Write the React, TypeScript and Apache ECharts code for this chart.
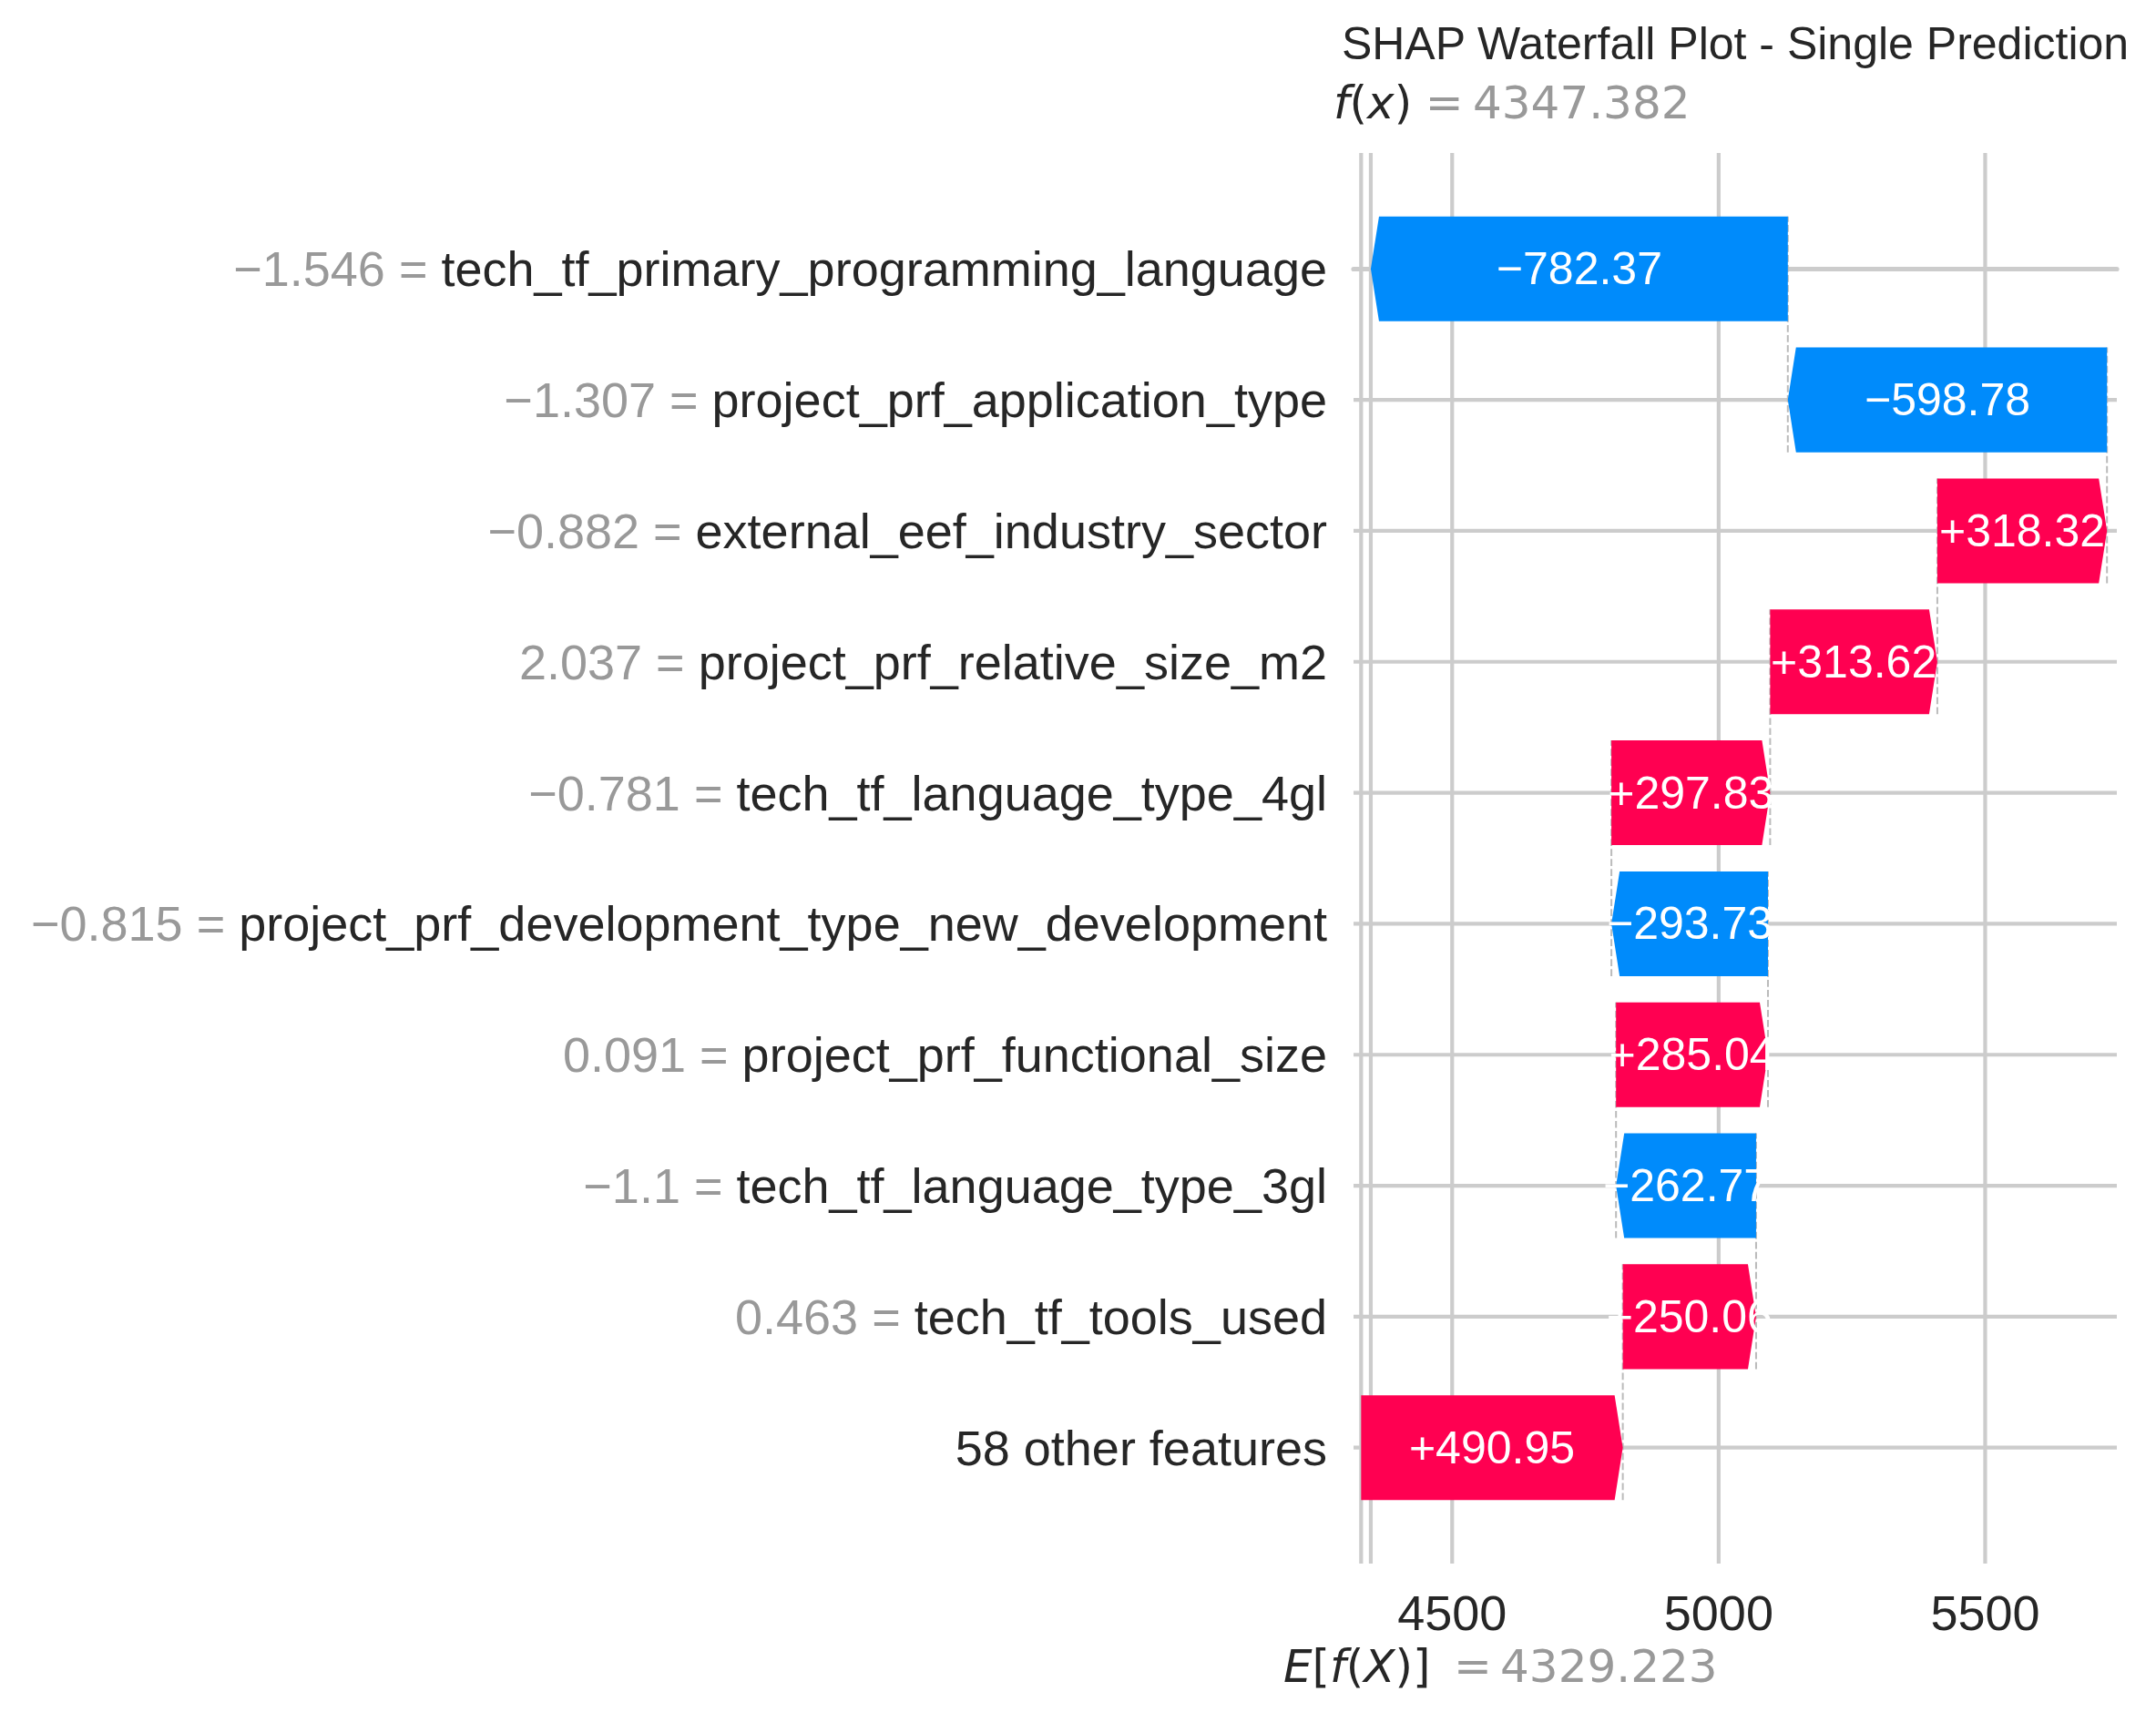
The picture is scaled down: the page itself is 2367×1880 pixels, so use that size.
import React, { useEffect, useRef } from "react";
import * as echarts from "echarts";

// ---------- data ----------
const featureNames = [
  "tech_tf_primary_programming_language",
  "project_prf_application_type",
  "external_eef_industry_sector",
  "project_prf_relative_size_m2",
  "tech_tf_language_type_4gl",
  "project_prf_development_type_new_development",
  "project_prf_functional_size",
  "tech_tf_language_type_3gl",
  "tech_tf_tools_used",
  "58 other features",
];
const featureValues = [
  "\u22121.546",
  "\u22121.307",
  "\u22120.882",
  "2.037",
  "\u22120.781",
  "\u22120.815",
  "0.091",
  "\u22121.1",
  "0.463",
  "",
];
const shapValues = [-782.37, -598.78, 318.32, 313.62, 297.83, -293.73, 285.04, -262.77, 250.06, 490.95];
const BASE_VALUE = 4329.223;
const FX_VALUE = 4347.382;
const xTicks = [4500, 5000, 5500];
const TITLE = "SHAP Waterfall Plot - Single Prediction";

// ---------- layout / style ----------
const W = 2367;
const H = 1880;
const X_MIN = 4315;
const X_MAX = 5747;
const Y_MIN = -0.885;
const Y_MAX = 9.885;
const GRID_LEFT = 1486;
const GRID_RIGHT = 43;
const GRID_TOP = 168;
const GRID_BOTTOM = 163;
const PLOT_H = H - GRID_TOP - GRID_BOTTOM;
const PLOT_W = W - GRID_LEFT - GRID_RIGHT;
const ROW_TOP_PX = GRID_TOP + ((0 - Y_MIN) / (Y_MAX - Y_MIN)) * PLOT_H;
const ROW_BOTTOM_PX = GRID_TOP + ((9 - Y_MIN) / (Y_MAX - Y_MIN)) * PLOT_H;

const RED = "#ff0051";
const BLUE = "#008bfb";
const DARK = "#262626";
const GREY = "#999999";
const GRIDC = "#cccccc";
const SANS = '"Liberation Sans", Arial, Helvetica, sans-serif';
const MATH = '"DejaVu Sans", sans-serif';
const HEAD = 9;
const HALF = 0.4;

function buildBars() {
  const bars: number[][] = [];
  let loc = BASE_VALUE;
  for (let i = shapValues.length - 1; i >= 0; i--) {
    const s = loc;
    const e = loc + shapValues[i];
    bars[i] = [s, e, i, shapValues[i]];
    loc = e;
  }
  return bars;
}

function fmt(v: number) {
  return (v > 0 ? "+" : "\u2212") + Math.abs(v).toFixed(2);
}

export default function App() {
  const ref = useRef<HTMLDivElement>(null);
  useEffect(() => {
    if (!ref.current) return;
    const chart = echarts.init(ref.current, null, { renderer: "svg" });
    const bars = buildBars();
    const rows = featureNames.map((_, i) => [X_MIN, i]);
    const connectors = bars.slice(0, bars.length - 1).map((b) => [b[0], b[2]]);
    const vLines = xTicks.concat([BASE_VALUE, FX_VALUE]).map((v) => [v, 0]);

    const option: any = {
      animation: false,
      backgroundColor: "#ffffff",
      grid: [
        { left: GRID_LEFT, right: GRID_RIGHT, top: GRID_TOP, bottom: GRID_BOTTOM },
        { left: GRID_LEFT, right: GRID_RIGHT, top: ROW_TOP_PX, bottom: H - ROW_BOTTOM_PX },
      ],
      xAxis: [
        {
          type: "value",
          gridIndex: 0,
          min: X_MIN,
          max: X_MAX,
          axisLine: { show: true, lineStyle: { color: GRIDC, width: 5.2 } },
          axisTick: { show: false },
          splitLine: { show: false },
          axisLabel: {
            customValues: xTicks,
            fontSize: 54,
            fontFamily: SANS,
            color: DARK,
            margin: 27,
            formatter: (v: number) => String(v),
          },
        },
        { type: "value", gridIndex: 1, min: X_MIN, max: X_MAX, show: false },
      ],
      yAxis: [
        { type: "value", gridIndex: 0, min: Y_MIN, max: Y_MAX, inverse: true, show: false },
        {
          type: "category",
          gridIndex: 1,
          data: featureNames,
          inverse: true,
          boundaryGap: false,
          axisLine: { show: false },
          axisTick: { show: false },
          splitLine: { show: false },
          axisLabel: {
            interval: 0,
            margin: 29,
            fontSize: 54,
            fontFamily: SANS,
            formatter: (name: string, idx: number) => {
              const fv = featureValues[idx];
              return fv ? `{g|${fv} =}{n|\u00a0${name}}` : `{n|${name}}`;
            },
            rich: {
              g: { color: GREY, fontSize: 54, fontFamily: SANS },
              n: { color: DARK, fontSize: 54, fontFamily: SANS },
            },
          },
        },
      ],
      graphic: [
        {
          type: "text",
          x: GRID_LEFT + PLOT_W / 2,
          y: 48,
          style: {
            text: TITLE,
            font: `50px ${SANS}`,
            fill: DARK,
            align: "center",
            verticalAlign: "middle",
          },
        },
      ],
      series: [
        {
          type: "custom",
          name: "vgrid",
          xAxisIndex: 0,
          yAxisIndex: 0,
          silent: true,
          z: 1,
          data: vLines,
          encode: { x: 0, y: 1 },
          renderItem: (params: any, api: any) => {
            const x = api.coord([api.value(0), 0])[0];
            const cs = params.coordSys;
            return {
              type: "line",
              shape: { x1: x, y1: cs.y, x2: x, y2: cs.y + cs.height },
              style: { stroke: GRIDC, lineWidth: 4.2 },
            };
          },
        },
        {
          type: "custom",
          name: "hgrid",
          xAxisIndex: 0,
          yAxisIndex: 0,
          silent: true,
          z: 1,
          data: rows,
          encode: { x: 0, y: 1 },
          renderItem: (params: any, api: any) => {
            const y = api.coord([api.value(0), api.value(1)])[1];
            const cs = params.coordSys;
            return {
              type: "line",
              shape: { x1: cs.x, y1: y, x2: cs.x + cs.width, y2: y },
              style: { stroke: GRIDC, lineWidth: 4.2 },
            };
          },
        },
        {
          type: "custom",
          name: "connectors",
          xAxisIndex: 0,
          yAxisIndex: 0,
          silent: true,
          z: 2,
          data: connectors,
          encode: { x: 0, y: 1 },
          renderItem: (params: any, api: any) => {
            const v = api.value(0);
            const r = api.value(1);
            const x = api.coord([v, r])[0];
            const y1 = api.coord([v, r + 1 + HALF])[1];
            const y2 = api.coord([v, r - HALF])[1];
            return {
              type: "line",
              shape: { x1: x, y1, x2: x, y2 },
              style: { stroke: "#bbbbbb", lineWidth: 2, lineDash: [7.7, 3.3] },
            };
          },
        },
        {
          type: "custom",
          name: "bars",
          xAxisIndex: 0,
          yAxisIndex: 0,
          z: 3,
          data: bars,
          encode: { x: [0, 1], y: 2 },
          renderItem: (params: any, api: any) => {
            const s = api.value(0);
            const e = api.value(1);
            const r = api.value(2);
            const v = api.value(3);
            const xs = api.coord([s, r])[0];
            const xe = api.coord([e, r])[0];
            const yc = api.coord([s, r])[1];
            const yt = api.coord([s, r - HALF])[1];
            const yb = api.coord([s, r + HALF])[1];
            const dir = xe >= xs ? 1 : -1;
            const h = Math.min(HEAD, Math.abs(xe - xs));
            const pts = [
              [xs, yt],
              [xe - dir * h, yt],
              [xe, yc],
              [xe - dir * h, yb],
              [xs, yb],
            ];
            return {
              type: "group",
              children: [
                {
                  type: "polygon",
                  shape: { points: pts },
                  style: { fill: v > 0 ? RED : BLUE },
                },
                {
                  type: "text",
                  x: (xs + xe) / 2,
                  y: yc,
                  style: {
                    text: fmt(v),
                    font: `50px ${SANS}`,
                    fill: "#ffffff",
                    align: "center",
                    verticalAlign: "middle",
                  },
                },
              ],
            };
          },
        },
        {
          type: "custom",
          name: "annotations",
          xAxisIndex: 0,
          yAxisIndex: 0,
          silent: true,
          z: 4,
          data: [
            [FX_VALUE, 0],
            [BASE_VALUE, 1],
          ],
          encode: { x: 0, y: 1 },
          renderItem: (params: any, api: any) => {
            const val = api.value(0);
            const which = api.value(1);
            const x = api.coord([val, 0])[0];
            const cs = params.coordSys;
            const isTop = which === 0;
            const y = isTop ? cs.y - 55.5 : cs.y + cs.height + 112.7;
            const rich = {
              i: { fontFamily: MATH, fontStyle: "italic", fontSize: 50, color: DARK },
              r: { fontFamily: MATH, fontSize: 50, color: DARK },
            };
            const lab = isTop
              ? "{i|f}{r|(}{i|x}{r|)}"
              : "{i|E}{r|[}{i|f}{r|(}{i|X}{r|)}{r|]}";
            const offs = isTop ? [-41, 59.7, 112] : [-85.3, 101.7, 152.7];
            return {
              type: "group",
              children: [
                {
                  type: "text",
                  x: x + offs[0],
                  y,
                  style: { text: lab, rich, align: "left", verticalAlign: "middle", font: `50px ${MATH}`, fill: DARK },
                },
                {
                  type: "text",
                  x: x + offs[1],
                  y,
                  style: { text: "=", font: `50px ${MATH}`, fill: GREY, align: "left", verticalAlign: "middle" },
                },
                {
                  type: "text",
                  x: x + offs[2],
                  y,
                  style: {
                    text: val.toFixed(3),
                    font: `50px ${MATH}`,
                    fill: GREY,
                    align: "left",
                    verticalAlign: "middle",
                  },
                },
              ],
            };
          },
        },
      ],
    };
    chart.setOption(option);
    return () => chart.dispose();
  }, []);
  return (
    <div
      ref={ref}
      style={{ position: "fixed", left: 0, top: 0, width: W, height: H, background: "#fff" }}
    />
  );
}
